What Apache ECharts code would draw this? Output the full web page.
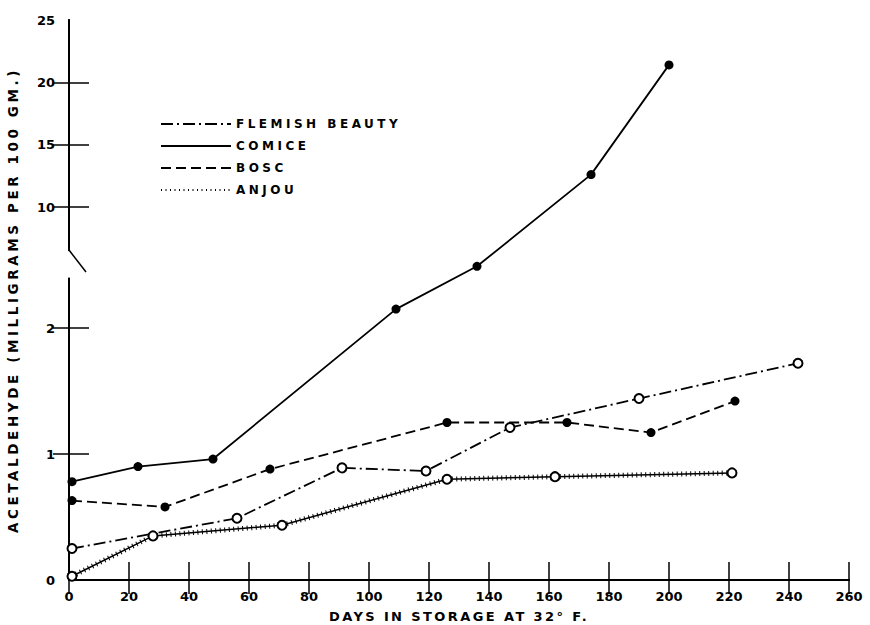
<!DOCTYPE html>
<html>
<head>
<meta charset="utf-8">
<script src="https://cdn.jsdelivr.net/npm/echarts@6/dist/echarts.min.js"></script>
<style>
html, body { margin: 0; padding: 0; background: #fff; }
#chart { width: 870px; height: 625px; }
</style>
</head>
<body>
<div id="chart"></div>
<script>
// days in storage and acetaldehyde (mg per 100 g)
const comiceDays = [1, 23, 48, 109, 136, 174, 200];
const comiceVals = [0.78, 0.90, 0.96, 2.15, 4.1, 12.6, 21.4];
const boscDays = [1, 32, 67, 126, 166, 194, 222];
const boscVals = [0.63, 0.58, 0.88, 1.25, 1.25, 1.17, 1.42];
const flemishDays = [1, 56, 91, 119, 147, 190, 243];
const flemishVals = [0.25, 0.49, 0.89, 0.865, 1.21, 1.44, 1.72];
const anjouDays = [1, 28, 71, 126, 162, 221];
const anjouVals = [0.03, 0.35, 0.435, 0.80, 0.82, 0.85];
const yLabelVals = [0, 1, 2, 10, 15, 20, 25];
const yTickVals = [1, 2, 10, 15, 20];

// broken y scale: 0..2.4 stretched, 6.55..25 squeezed (about 1/10)
const LOW_TOP = 2.4, HIGH_BOTTOM = 6.55;
const HIGH_K = 12.47 / 126;
const T10 = 2.96;
function tOf(v) {
    if (v <= LOW_TOP) return v;
    if (v >= HIGH_BOTTOM) return T10 + (v - 10) * HIGH_K;
    const hb = T10 + (HIGH_BOTTOM - 10) * HIGH_K;
    return LOW_TOP + (v - LOW_TOP) / (HIGH_BOTTOM - LOW_TOP) * (hb - LOW_TOP);
}
function pts(days, vals) {
    return days.map((d, i) => [d, tOf(vals[i])]);
}

const FONT = 'DejaVu Sans';
const BLACK = '#000';
var chart = echarts.init(document.getElementById('chart'), null, { renderer: 'svg' });

const gridBox = { left: 69, right: 21, top: 20, bottom: 45, outerBoundsMode: 'none' };

// second grid on the same box only carries the inward tick marks
function tickXAxis(pos, len) {
    return {
        type: 'value', gridIndex: 1, position: pos, offset: -1,
        min: 0, max: 260, interval: 20,
        axisLine: { show: false },
        axisTick: { length: len, lineStyle: { color: BLACK, width: 1.5 } },
        axisLabel: { show: false },
        splitLine: { show: false }
    };
}
function tickYAxis(pos, len) {
    return {
        type: 'value', gridIndex: 1, position: pos, offset: -1,
        min: 0, max: tOf(25),
        axisLine: { show: false },
        axisTick: {
            length: len,
            customValues: yTickVals.map(tOf),
            lineStyle: { color: BLACK, width: 1.5 }
        },
        axisLabel: { show: false },
        splitLine: { show: false }
    };
}

option = {
    animation: false,
    backgroundColor: '#fff',
    grid: [gridBox, Object.assign({}, gridBox)],
    legend: {
        orient: 'vertical',
        left: 155,
        top: 113,
        itemWidth: 70,
        itemHeight: 10,
        itemGap: 10,
        selectedMode: false,
        itemStyle: { opacity: 0 },
        textStyle: { color: BLACK, fontSize: 12, fontWeight: 'bold', fontFamily: FONT },
        data: ['FLEMISH BEAUTY', 'COMICE', 'BOSC', 'ANJOU']
    },
    xAxis: [{
        type: 'value', position: 'bottom',
        min: 0, max: 260, interval: 20,
        name: 'DAYS IN STORAGE AT 32° F.',
        nameLocation: 'middle', nameGap: 30,
        nameTextStyle: { color: BLACK, fontSize: 13, fontWeight: 'bold', fontFamily: FONT },
        axisLine: { lineStyle: { color: BLACK, width: 2 } },
        axisTick: { show: false },
        axisLabel: { color: BLACK, fontSize: 13, fontWeight: 'bold', fontFamily: FONT, margin: 10 },
        splitLine: { show: false }
    }, {
        type: 'value', position: 'top',
        min: 0, max: 260, interval: 20,
        axisLine: { lineStyle: { color: BLACK, width: 2 } },
        axisTick: { show: false },
        axisLabel: { show: false },
        splitLine: { show: false }
    },
    tickXAxis('bottom', 15),
    tickXAxis('top', 17)],
    yAxis: [{
        type: 'value', position: 'left',
        min: 0, max: tOf(25),
        name: 'ACETALDEHYDE (MILLIGRAMS PER 100 GM.)',
        nameLocation: 'middle', nameGap: 49, nameRotate: 90,
        nameTextStyle: { color: BLACK, fontSize: 13.5, fontWeight: 'bold', fontFamily: FONT },
        axisLine: { lineStyle: { color: BLACK, width: 2 } },
        axisTick: { show: false },
        axisLabel: {
            color: BLACK, fontSize: 13, fontWeight: 'bold', fontFamily: FONT, margin: 14,
            customValues: yLabelVals.map(tOf),
            formatter: function (val) {
                for (const v of yLabelVals) {
                    if (Math.abs(tOf(v) - val) < 1e-6) return String(v);
                }
                return '';
            }
        },
        splitLine: { show: false }
    }, {
        type: 'value', position: 'right',
        min: 0, max: tOf(25),
        axisLine: { lineStyle: { color: BLACK, width: 2 } },
        axisTick: { show: false },
        axisLabel: { show: false },
        splitLine: { show: false }
    },
    tickYAxis('left', 17),
    tickYAxis('right', 19)],
    series: [{
        name: 'COMICE',
        type: 'line',
        data: pts(comiceDays, comiceVals),
        symbol: 'circle', symbolSize: 9,
        itemStyle: { color: BLACK },
        lineStyle: { color: BLACK, width: 1.8 }
    }, {
        name: 'BOSC',
        type: 'line',
        data: pts(boscDays, boscVals),
        symbol: 'circle', symbolSize: 9,
        itemStyle: { color: BLACK },
        lineStyle: { color: BLACK, width: 1.8, type: [10, 5] }
    }, {
        name: 'anjou-base',
        type: 'line',
        data: pts(anjouDays, anjouVals),
        symbol: 'none',
        silent: true,
        lineStyle: { color: BLACK, width: 1.5 }
    }, {
        name: 'ANJOU',
        type: 'line',
        data: pts(anjouDays, anjouVals),
        symbol: 'emptyCircle', symbolSize: 9,
        itemStyle: { color: BLACK, borderWidth: 1.5 },
        lineStyle: { color: BLACK, width: 5, type: [1, 3.5] }
    }, {
        name: 'FLEMISH BEAUTY',
        type: 'line',
        data: pts(flemishDays, flemishVals),
        symbol: 'emptyCircle', symbolSize: 9,
        itemStyle: { color: BLACK, borderWidth: 1.5 },
        lineStyle: { color: BLACK, width: 1.8, type: [12, 4, 2, 4] }
    }]
};
chart.setOption(option);

// break mark on the left axis
const yTop = chart.convertToPixel({ yAxisIndex: 0 }, tOf(HIGH_BOTTOM));
const yBot = chart.convertToPixel({ yAxisIndex: 0 }, tOf(LOW_TOP));
const xL = chart.convertToPixel({ xAxisIndex: 0 }, 0);
chart.setOption({
    graphic: [{
        type: 'rect', z: 100,
        shape: { x: xL - 3, y: yTop + 1, width: 6, height: yBot - yTop - 1 },
        style: { fill: '#fff' }
    }, {
        type: 'line', z: 100,
        shape: { x1: xL, y1: yTop, x2: xL + 17, y2: yTop + 22 },
        style: { stroke: BLACK, lineWidth: 1.5 }
    }]
});

// the lettering on the original is widely spaced
function spaceText() {
    document.querySelectorAll('#chart text').forEach(function (el) {
        const s = el.textContent;
        let ls = '0px';
        if (s.indexOf('ACETALDEHYDE') === 0) ls = '3.6px';
        else if (s.indexOf('DAYS') === 0) ls = '2.4px';
        else if (['FLEMISH BEAUTY', 'COMICE', 'BOSC', 'ANJOU'].indexOf(s) >= 0) ls = '3.5px';
        el.style.letterSpacing = ls;
    });
}
chart.on('finished', spaceText);
spaceText();
setTimeout(spaceText, 0);
</script>
</body>
</html>
